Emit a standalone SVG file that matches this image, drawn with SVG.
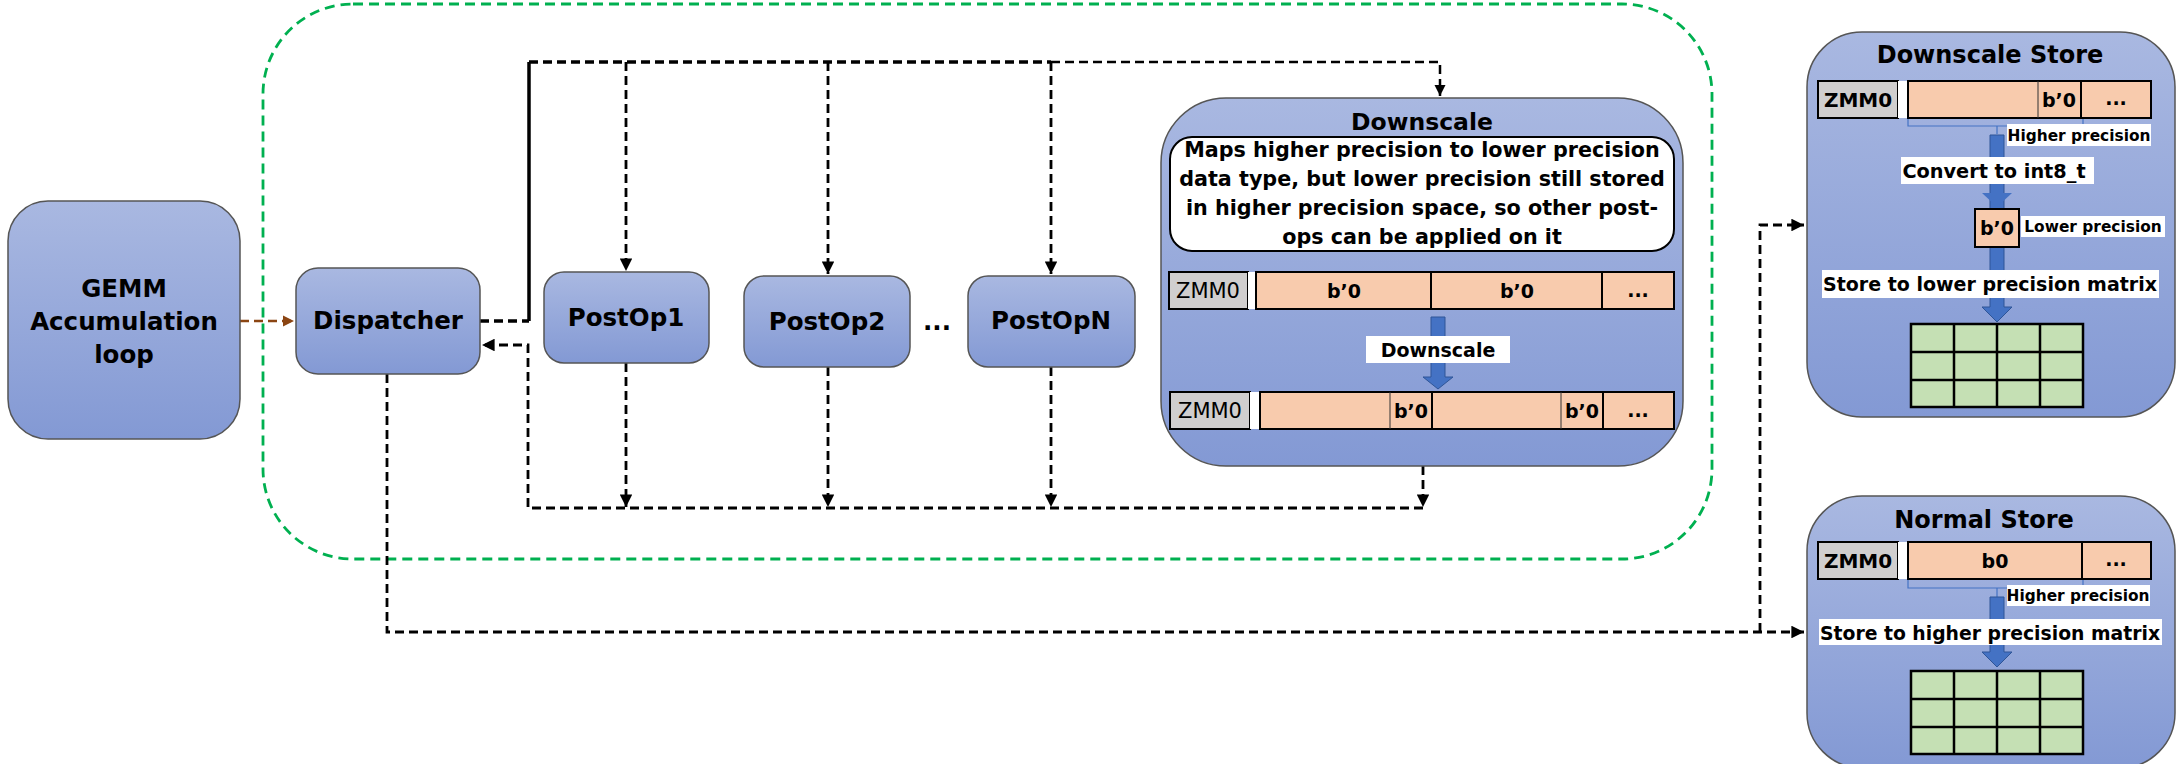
<svg xmlns="http://www.w3.org/2000/svg" width="2177" height="764" viewBox="0 0 2177 764">
<defs>
<linearGradient id="nodeGrad" x1="0" y1="0" x2="0" y2="1">
<stop offset="0" stop-color="#A9B8E1"/>
<stop offset="1" stop-color="#8399D4"/>
</linearGradient>
<marker id="arrowBlack" viewBox="0 0 10 10" refX="10" refY="5" markerWidth="4.5" markerHeight="4.5" markerUnits="strokeWidth" orient="auto">
<path d="M0,0 L10,5 L0,10 z" fill="#000"/>
</marker>
<marker id="arrowBrown" viewBox="0 0 10 10" refX="10" refY="5" markerWidth="4.5" markerHeight="4.5" markerUnits="strokeWidth" orient="auto">
<path d="M0,0 L10,5 L0,10 z" fill="#8B4513"/>
</marker>
</defs>
<style>
.node{fill:url(#nodeGrad);stroke:#555;stroke-width:1.5}
.lbl{font-family:"DejaVu Sans","Open Sans",sans-serif;font-weight:bold;fill:#000;text-anchor:middle}
.big{font-size:24.5px}
.mid{font-size:20.7px}
.val{font-size:19px}
.sm{font-size:15.4px}
.reg{font-weight:normal}
.conn{fill:none;stroke:#000;stroke-width:2.8;stroke-dasharray:9 5}
.grey{fill:#D0CECE;stroke:#000;stroke-width:2}
.orange{fill:#F8CBAD;stroke:#000;stroke-width:2}
.div{stroke:#000;stroke-width:2}
.thin{stroke:#333;stroke-width:1}
.wl{fill:#fff}
.barrow{fill:#4472C4;stroke:#2F5597;stroke-width:1}
.grid{fill:#C5E0B4;stroke:#000;stroke-width:2.5}
.brace{fill:none;stroke:#4472C4;stroke-width:1.2}
</style>

<rect id="container" x="263" y="4" width="1449" height="555" rx="90" fill="none" stroke="#00B050" stroke-width="2.8" stroke-dasharray="10 6"/>

<g id="connectors">
<line x1="240" y1="321" x2="294" y2="321" stroke="#8B4513" stroke-width="2.5" stroke-dasharray="9 5" marker-end="url(#arrowBrown)"/>
<polyline points="480,321 529,321" class="conn" style="stroke-width:3.5"/>
<polyline points="529,321 529,62" fill="none" stroke="#000" stroke-width="3.5"/>
<polyline points="529,62 1051,62" class="conn" style="stroke-width:3.5"/>
<polyline points="1051,62 1440,62 1440,96" class="conn" style="stroke-width:2.5" marker-end="url(#arrowBlack)"/>
<line x1="626" y1="62" x2="626" y2="271" class="conn" marker-end="url(#arrowBlack)"/>
<line x1="828" y1="62" x2="828" y2="274" class="conn" marker-end="url(#arrowBlack)"/>
<line x1="1051" y1="62" x2="1051" y2="274" class="conn" marker-end="url(#arrowBlack)"/>
<line x1="626" y1="363" x2="626" y2="507" class="conn" marker-end="url(#arrowBlack)"/>
<line x1="828" y1="367" x2="828" y2="507" class="conn" marker-end="url(#arrowBlack)"/>
<line x1="1051" y1="367" x2="1051" y2="507" class="conn" marker-end="url(#arrowBlack)"/>
<line x1="1423" y1="466" x2="1423" y2="507" class="conn" marker-end="url(#arrowBlack)"/>
<polyline points="1423,508 528,508 528,345 482,345" class="conn" marker-end="url(#arrowBlack)"/>
<polyline points="387,374 387,632 1804,632" class="conn" marker-end="url(#arrowBlack)"/>
<polyline points="1760,632 1760,225 1804,225" class="conn" marker-end="url(#arrowBlack)"/>
</g>

<g id="gemm">
<rect x="8" y="201" width="232" height="238" rx="40" class="node"/>
<text class="lbl big" x="124" y="297">GEMM</text>
<text class="lbl big" x="124" y="330">Accumulation</text>
<text class="lbl big" x="124" y="363">loop</text>
</g>

<g id="dispatcher">
<rect x="296" y="268" width="184" height="106" rx="22" class="node"/>
<text class="lbl big" x="388" y="329">Dispatcher</text>
</g>

<g id="postop1">
<rect x="544" y="272" width="165" height="91" rx="20" class="node"/>
<text class="lbl big" x="626" y="326">PostOp1</text>
</g>

<g id="postop2">
<rect x="744" y="276" width="166" height="91" rx="20" class="node"/>
<text class="lbl big" x="827" y="330">PostOp2</text>
</g>

<g id="ellipsis">
<text class="lbl big" x="937" y="330">...</text>
</g>

<g id="postopN">
<rect x="968" y="276" width="167" height="91" rx="20" class="node"/>
<text class="lbl big" x="1051" y="329">PostOpN</text>
</g>

<g id="downscale">
<rect x="1161" y="98" width="522" height="368" rx="65" class="node"/>
<text class="lbl" style="font-size:23.5px" x="1422" y="130">Downscale</text>
<rect x="1170" y="137" width="504" height="114" rx="22" fill="#fff" stroke="#000" stroke-width="2"/>
<text class="lbl mid" x="1422" y="157">Maps higher precision to lower precision</text>
<text class="lbl mid" x="1422" y="186">data type, but lower precision still stored</text>
<text class="lbl mid" x="1422" y="215">in higher precision space, so other post-</text>
<text class="lbl mid" x="1422" y="244">ops can be applied on it</text>
<rect x="1169" y="272" width="79" height="37" class="grey"/>
<text class="lbl reg" style="font-size:21px" x="1208" y="298">ZMM0</text>
<rect x="1248" y="272" width="8" height="37" fill="#fff"/>
<rect x="1256" y="272" width="418" height="37" class="orange"/>
<line x1="1431" y1="272" x2="1431" y2="309" class="div"/>
<line x1="1602" y1="272" x2="1602" y2="309" class="div"/>
<text class="lbl val" x="1344" y="298">b’0</text>
<text class="lbl val" x="1517" y="298">b’0</text>
<text class="lbl val" x="1638" y="297">...</text>
<path d="M1431,317 H1445 V377 H1453 L1438,389 L1423,377 H1431 Z" class="barrow"/>
<rect x="1366" y="336" width="144" height="27" class="wl"/>
<text class="lbl" style="font-size:19px" x="1438" y="357">Downscale</text>
<rect x="1170" y="392" width="80" height="37" class="grey"/>
<text class="lbl reg" style="font-size:21px" x="1210" y="418">ZMM0</text>
<rect x="1250" y="392" width="10" height="37" fill="#fff"/>
<rect x="1260" y="392" width="414" height="37" class="orange"/>
<line x1="1390" y1="392" x2="1390" y2="429" class="thin"/>
<line x1="1432" y1="392" x2="1432" y2="429" class="div"/>
<line x1="1561" y1="392" x2="1561" y2="429" class="thin"/>
<line x1="1603" y1="392" x2="1603" y2="429" class="div"/>
<text class="lbl val" x="1411" y="418">b’0</text>
<text class="lbl val" x="1582" y="418">b’0</text>
<text class="lbl val" x="1638" y="417">...</text>
</g>

<g id="downscale-store">
<rect x="1807" y="32" width="368" height="385" rx="55" class="node"/>
<text class="lbl" style="font-size:24px" x="1990" y="63">Downscale Store</text>
<rect x="1818" y="81" width="80" height="37" class="grey"/>
<text class="lbl" style="font-size:20px" x="1858" y="107">ZMM0</text>
<rect x="1898" y="81" width="10" height="37" fill="#fff"/>
<rect x="1908" y="81" width="243" height="37" class="orange"/>
<line x1="2038" y1="81" x2="2038" y2="118" class="thin"/>
<line x1="2081" y1="81" x2="2081" y2="118" class="div"/>
<text class="lbl val" x="2059" y="107">b’0</text>
<text class="lbl val" x="2116" y="105">...</text>
<path d="M1908,119 V126 H2083 V119 M1997,126 V134" class="brace"/>
<path d="M1990,135 H2004 V307 H2012 L1997,322 L1982,307 H1990 Z" class="barrow"/>
<path d="M1982,193 L1997,207 L2012,193" fill="#4472C4"/>
<rect x="2007" y="124" width="144" height="22" class="wl"/>
<text class="lbl sm" x="2079" y="141">Higher precision</text>
<rect x="1901" y="157" width="193" height="27" class="wl"/>
<text class="lbl" style="font-size:19.3px" x="1994" y="178">Convert to int8_t</text>
<rect x="1975" y="209" width="44" height="38" class="orange"/>
<text class="lbl val" x="1997" y="235">b’0</text>
<rect x="2021" y="216" width="144" height="21" class="wl"/>
<text class="lbl sm" x="2093" y="232">Lower precision</text>
<rect x="1822" y="270" width="337" height="28" class="wl"/>
<text class="lbl" style="font-size:19px" x="1990" y="291">Store to lower precision matrix</text>
<g class="grid">
<rect x="1911" y="324" width="172" height="83"/>
<path d="M1954,324 V407 M1997,324 V407 M2040,324 V407 M1911,352 H2083 M1911,380 H2083" fill="none"/>
</g>
</g>

<g id="normal-store">
<rect x="1807" y="496" width="368" height="272" rx="55" class="node"/>
<text class="lbl" style="font-size:24px" x="1984" y="528">Normal Store</text>
<rect x="1818" y="542" width="80" height="37" class="grey"/>
<text class="lbl" style="font-size:20px" x="1858" y="568">ZMM0</text>
<rect x="1898" y="542" width="10" height="37" fill="#fff"/>
<rect x="1908" y="542" width="243" height="37" class="orange"/>
<line x1="2082" y1="542" x2="2082" y2="579" class="div"/>
<text class="lbl val" x="1995" y="568">b0</text>
<text class="lbl val" x="2116" y="566">...</text>
<path d="M1908,580 V588 H2083 V580 M1997,588 V597" class="brace"/>
<path d="M1990,597 H2004 V652 H2012 L1997,667 L1982,652 H1990 Z" class="barrow"/>
<rect x="2007" y="585" width="143" height="21" class="wl"/>
<text class="lbl sm" x="2078" y="601">Higher precision</text>
<rect x="1819" y="619" width="343" height="26" class="wl"/>
<text class="lbl" style="font-size:18.8px" x="1990" y="640">Store to higher precision matrix</text>
<g class="grid">
<rect x="1911" y="671" width="172" height="83"/>
<path d="M1954,671 V754 M1997,671 V754 M2040,671 V754 M1911,699 H2083 M1911,727 H2083" fill="none"/>
</g>
</g>
</svg>
